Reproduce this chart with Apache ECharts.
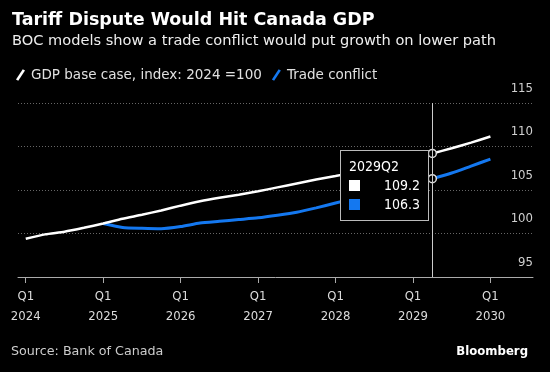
<!DOCTYPE html>
<html><head><meta charset="utf-8">
<script src="https://cdn.jsdelivr.net/npm/echarts@6/dist/echarts.min.js"></script>
<style>html,body{margin:0;padding:0;background:#000;}#c{width:550px;height:372px;}</style>
</head><body><div id="c"></div>
<script>
const quarters = ['2024Q1','2024Q2','2024Q3','2024Q4','2025Q1','2025Q2','2025Q3','2025Q4','2026Q1','2026Q2','2026Q3','2026Q4','2027Q1','2027Q2','2027Q3','2027Q4','2028Q1','2028Q2','2028Q3','2028Q4','2029Q1','2029Q2','2029Q3','2029Q4','2030Q1'];
const baseCase = [99.4,99.9,100.2,100.65,101.15,101.7,102.15,102.65,103.2,103.7,104.1,104.45,104.85,105.3,105.75,106.2,106.6,107.05,107.5,108.0,108.55,109.2,109.8,110.45,111.15];
const tradeConflict = [null,null,null,null,101.15,100.7,100.6,100.55,100.8,101.2,101.4,101.6,101.8,102.1,102.45,102.95,103.5,104.05,104.6,105.15,105.7,106.3,106.95,107.75,108.55];
const xTickQuarters = ['2024Q1','2025Q1','2026Q1','2027Q1','2028Q1','2029Q1','2030Q1'];
const yTicks = [95,100,105,110,115];
const seriesNames = ['GDP base case, index: 2024 =100','Trade conflict'];
const highlightQuarter = '2029Q2';
const titleText = 'Tariff Dispute Would Hit Canada GDP';
const subtitleText = 'BOC models show a trade conflict would put growth on lower path';
const sourceText = 'Source: Bank of Canada';
const brandText = 'Bloomberg';

const FONT = '"DejaVu Sans Condensed","DejaVu Sans",sans-serif';
const FONT_W = '"DejaVu Sans",sans-serif';
const colors = ['#ffffff','#1478f0'];
const slash = 'path://M0,11.5 L7.5,0 L10,1.5 L2.5,13 Z';

const toPairs = arr => arr.map((v,i)=>[i,v]).filter(p=>p[1]!==null);
const xTickIdx = xTickQuarters.map(q=>quarters.indexOf(q));

const chart = echarts.init(document.getElementById('c'), null, {renderer:'canvas'});
const mkSeries = (name, data, color, width, z) => ({
  name, type:'line', data: toPairs(data), showSymbol:false, symbol:'circle', symbolSize:8,
  smooth:0.2, z,
  lineStyle:{color, width},
  itemStyle:{color:'#000', borderColor:'#ddd', borderWidth:1.5},
  emphasis:{scale:false, focus:'none', lineStyle:{color, width}, itemStyle:{color:'#000', borderColor:'#ddd', borderWidth:1.5}}
});
chart.setOption({
  animation:false,
  backgroundColor:'#000',
  textStyle:{fontFamily:FONT},
  grid:{left:18, right:17, top:103, bottom:95, containLabel:false},
  legend:{
    left:11, top:63, itemWidth:9, itemHeight:12, itemGap:10,
    textStyle:{color:'#e0e0e0', fontSize:13.5, fontFamily:FONT_W, padding:[0,0,0,1]},
    data: seriesNames.map((n,i)=>({name:n, icon:slash, itemStyle:{color:colors[i], borderWidth:0}}))
  },
  xAxis:{
    type:'value', min:-0.4, max:26.2,
    splitLine:{show:false},
    axisLine:{lineStyle:{color:'#aaa', width:1}},
    axisTick:{show:true, customValues:xTickIdx, length:6, lineStyle:{color:'#aaa'}},
    axisLabel:{customValues:xTickIdx, color:'#dcdcdc', fontSize:13, lineHeight:20, margin:10,
      formatter: v => { const q = quarters[Math.round(v)]; return q ? 'Q' + q.slice(5) + '\n' + q.slice(0,4) : ''; }}
  },
  yAxis:{
    type:'value', position:'right', min:yTicks[0], max:yTicks[yTicks.length-1], interval:5,
    axisLine:{show:false}, axisTick:{show:false},
    splitLine:{lineStyle:{color:'#666', type:[1,2], width:1}},
    axisLabel:{inside:true, margin:0, align:'right', verticalAlign:'bottom', padding:[0,0,8,0], color:'#d0d0d0', fontSize:13}
  },
  tooltip:{
    trigger:'axis', triggerOn:'none', alwaysShowContent:true, position:[340,150],
    backgroundColor:'#000', borderColor:'#bbb', borderWidth:1, padding:[6,8,6,8],
    transitionDuration:0, extraCssText:'border-radius:0;box-shadow:none;',
    axisPointer:{type:'line', animation:false, lineStyle:{color:'#ccc', width:1, type:'solid'}},
    formatter: params => {
      const idx = Math.round(params[0].value[0]);
      let h = `<div style="font:14px ${FONT.replace(/"/g,"'")};color:#fff;line-height:19px;width:71px">`;
      h += `<div>${quarters[idx]}</div>`;
      params.forEach(p => {
        h += `<div style="display:flex;justify-content:space-between;align-items:center"><span style="display:inline-block;width:11px;height:11px;background:${colors[p.seriesIndex]}"></span><span>${p.value[1].toFixed(1)}</span></div>`;
      });
      return h + '</div>';
    }
  },
  graphic:[
    {type:'text', x:12, y:20, style:{text:titleText, fill:'#fff', font:`bold 17.5px ${FONT_W}`, verticalAlign:'middle'}},
    {type:'text', x:12, y:41, style:{text:subtitleText, fill:'#eee', font:`14.6px ${FONT_W}`, verticalAlign:'middle'}},
    {type:'text', x:11, y:352, style:{text:sourceText, fill:'#ccc', font:`12.7px ${FONT_W}`, verticalAlign:'middle'}},
    {type:'text', x:528, y:352, style:{text:brandText, fill:'#fff', font:`bold 13px ${FONT}`, verticalAlign:'middle', align:'right'}}
  ],
  series:[
    mkSeries(seriesNames[0], baseCase, colors[0], 2.5, 3),
    mkSeries(seriesNames[1], tradeConflict, colors[1], 3, 2)
  ]
});
chart.dispatchAction({type:'showTip', seriesIndex:0, dataIndex:quarters.indexOf(highlightQuarter)});
</script>
</body></html>
